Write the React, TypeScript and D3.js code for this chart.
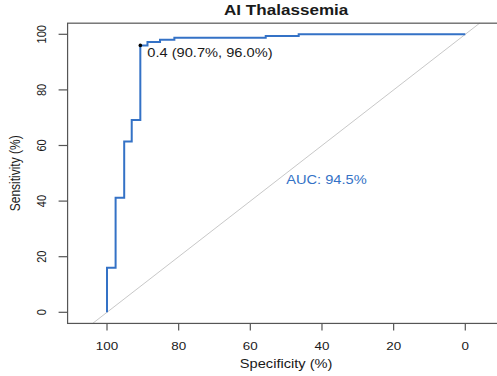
import { useEffect, useRef } from "react";
import * as d3 from "d3";

// ROC corner points (specificity %, sensitivity %)
const specificity = [100, 97.6, 95.2, 93.1, 90.7, 88.7, 85.2, 81.2, 55.7, 46.5, 0];
const sensitivity = [0, 16.0, 41.2, 61.4, 69.2, 96.0, 97.2, 98.0, 98.8, 99.4, 100];

const xTicks = [100, 80, 60, 40, 20, 0];
const yTicks = [0, 20, 40, 60, 80, 100];

const bestThreshold = { spec: 90.7, sens: 96.0, label: "0.4 (90.7%, 96.0%)" };
const aucLabel = "AUC: 94.5%";
const title = "AI Thalassemia";

function App() {
  const svgRef = useRef<SVGSVGElement | null>(null);

  useEffect(() => {
    const width = 497;
    const height = 376;
    const sx = 1.22; // the picture is stretched sideways
    const font = "Liberation Sans, Arial, sans-serif";
    const blue = "#3472c6";

    const svg = d3.select(svgRef.current);
    svg.selectAll("*").remove();
    svg.attr("width", width).attr("height", height);

    const x = d3.scaleLinear().domain([100, 0]).range([107, 465.3]);
    const y = d3.scaleLinear().domain([0, 100]).range([312.3, 34.3]);

    const box = { left: x(111), right: x(-11), top: y(104), bottom: y(-4) };

    const addText = (
      px: number,
      py: number,
      txt: string,
      size: number,
      opts: { anchor?: string; weight?: string; fill?: string; rotate?: boolean } = {}
    ) => {
      svg
        .append("text")
        .attr("transform", `translate(${px},${py}) scale(${sx},1)${opts.rotate ? " rotate(-90)" : ""}`)
        .attr("text-anchor", opts.anchor || "middle")
        .attr("font-family", font)
        .attr("font-size", size)
        .attr("font-weight", opts.weight || "normal")
        .attr("fill", opts.fill || "#1a1a1a")
        .text(txt);
    };

    // Diagonal reference line
    svg
      .append("line")
      .attr("x1", x(104))
      .attr("y1", y(-4))
      .attr("x2", x(-4))
      .attr("y2", y(104))
      .attr("stroke", "#c8c8c8")
      .attr("stroke-width", 1);

    // Plot box
    svg
      .append("rect")
      .attr("x", box.left)
      .attr("y", box.top)
      .attr("width", box.right - box.left)
      .attr("height", box.bottom - box.top)
      .attr("fill", "none")
      .attr("stroke", "#555")
      .attr("stroke-width", 1.2);

    // X axis ticks
    svg
      .selectAll("line.xtick")
      .data(xTicks)
      .enter()
      .append("line")
      .attr("class", "xtick")
      .attr("x1", d => x(d))
      .attr("x2", d => x(d))
      .attr("y1", box.bottom)
      .attr("y2", box.bottom + 7)
      .attr("stroke", "#555")
      .attr("stroke-width", 1.2);

    xTicks.forEach(t => addText(x(t), 349.5, String(t), 11));

    // Y axis ticks
    svg
      .selectAll("line.ytick")
      .data(yTicks)
      .enter()
      .append("line")
      .attr("class", "ytick")
      .attr("x1", box.left)
      .attr("x2", box.left - 9)
      .attr("y1", d => y(d))
      .attr("y2", d => y(d))
      .attr("stroke", "#555")
      .attr("stroke-width", 1.2);

    yTicks.forEach(t => addText(45.5, y(t), String(t), 11, { rotate: true }));

    // Axis titles and chart title
    addText((box.left + box.right) / 2, 368, "Specificity (%)", 12);
    addText(19.5, y(50), "Sensitivity (%)", 12, { rotate: true });
    addText((box.left + box.right) / 2, 15, title, 14, { weight: "bold" });

    // ROC curve
    const points = specificity.map((s, i) => [s, sensitivity[i]] as [number, number]);
    const line = d3
      .line<[number, number]>()
      .x(d => x(d[0]))
      .y(d => y(d[1]))
      .curve(d3.curveStepBefore);

    svg
      .append("path")
      .attr("d", line(points))
      .attr("fill", "none")
      .attr("stroke", blue)
      .attr("stroke-width", 2);

    // Best threshold
    svg
      .append("circle")
      .attr("cx", x(bestThreshold.spec))
      .attr("cy", y(bestThreshold.sens))
      .attr("r", 1.8)
      .attr("fill", "#000");

    addText(x(bestThreshold.spec) + 7, y(bestThreshold.sens) + 12, bestThreshold.label, 12, {
      anchor: "start"
    });

    // AUC
    addText(x(50), y(50) + 11, aucLabel, 12, { anchor: "start", fill: blue });
  }, []);

  return (
    <div style={{ position: "fixed", left: 0, top: 0, background: "#fff" }}>
      <svg ref={svgRef} style={{ display: "block" }}></svg>
    </div>
  );
}

export default App;
